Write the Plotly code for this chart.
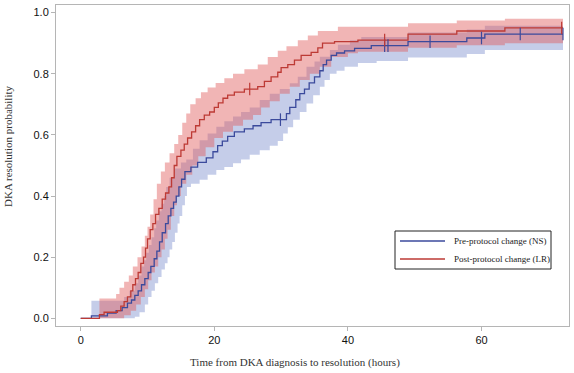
import numpy as np
import plotly.graph_objects as go

# ---------------- data ----------------
END_TIME = 72.2

# Post-protocol change (LR) -- red
red_t = [0, 2.8, 3.5, 5.5, 6.0, 6.5, 7.0, 7.5, 7.8, 8.2, 8.6, 9.0, 9.4, 9.7, 10.0, 10.4, 10.8,
         11.2, 11.7, 12.2, 12.7, 13.2, 13.6, 14.0, 14.4, 15.0, 15.5, 16.0, 16.6, 17.2, 17.8,
         18.5, 19.3, 20.0, 20.6, 21.3, 22.0, 23.0, 24.5, 26.5, 27.5, 28.5, 29.5, 30.0, 31.0,
         32.0, 33.0, 34.5, 35.5, 36.2, 38.0, 41.5, 49.0, 56.3, 63.5]
red_s = [0, 0.012, 0.02, 0.025, 0.04, 0.055, 0.07, 0.09, 0.11, 0.13, 0.15, 0.18, 0.20, 0.23,
         0.26, 0.29, 0.31, 0.34, 0.36, 0.39, 0.41, 0.43, 0.46, 0.50, 0.53, 0.55, 0.57, 0.59,
         0.61, 0.63, 0.65, 0.665, 0.675, 0.69, 0.705, 0.72, 0.73, 0.74, 0.75, 0.758, 0.775,
         0.79, 0.805, 0.82, 0.83, 0.845, 0.86, 0.87, 0.885, 0.90, 0.905, 0.91, 0.93, 0.94, 0.95]
red_up_t = [2.8, 5.3, 5.8, 6.5, 7.2, 7.8, 8.5, 9.1, 9.6, 10.0, 10.4, 10.9, 11.4, 12.0, 12.6,
            13.3, 14.0, 14.6, 15.2, 15.8, 16.4, 17.2, 18.0, 19.0, 20.2, 21.5, 22.8, 24.5,
            26.5, 28.0, 29.5, 30.8, 32.5, 34.0, 35.5, 38.5, 49.0, 56.3, 63.5]
red_up = [0.065, 0.08, 0.10, 0.12, 0.14, 0.17, 0.20, 0.235, 0.27, 0.30, 0.34, 0.39, 0.44,
          0.48, 0.51, 0.54, 0.57, 0.60, 0.64, 0.67, 0.70, 0.72, 0.74, 0.755, 0.77, 0.785,
          0.80, 0.815, 0.83, 0.855, 0.875, 0.89, 0.91, 0.925, 0.94, 0.954, 0.965, 0.974, 0.98]
red_lo_t = [2.8, 6.5, 7.5, 8.3, 9.0, 9.6, 10.1, 10.6, 11.1, 11.6, 12.1, 12.6, 13.0, 13.5,
            14.0, 14.4, 15.0, 15.8, 16.7, 17.6, 18.7, 20.0, 21.3, 22.8, 24.3, 25.8, 27.0,
            28.3, 29.8, 31.3, 32.8, 34.3, 35.8, 37.5, 40.0, 41.5, 49.0, 56.3, 63.5]
red_lo = [0.0, 0.01, 0.025, 0.045, 0.07, 0.095, 0.125, 0.15, 0.17, 0.20, 0.225, 0.26, 0.29,
          0.335, 0.37, 0.40, 0.44, 0.47, 0.50, 0.53, 0.56, 0.59, 0.61, 0.63, 0.65, 0.665,
          0.69, 0.71, 0.735, 0.758, 0.78, 0.80, 0.823, 0.855, 0.867, 0.872, 0.885, 0.893, 0.90]
red_censor = [25.3, 45.5, 72.0]

# Pre-protocol change (NS) -- blue
blue_t = [0, 1.6, 4.0, 5.3, 6.2, 7.0, 7.6, 8.1, 8.6, 9.1, 9.6, 10.1, 10.5, 11.0, 11.4, 11.8,
          12.2, 12.7, 13.1, 13.5, 13.9, 14.3, 14.7, 15.1, 15.6, 16.5, 17.5, 18.8, 19.8, 20.5,
          21.2, 22.0, 23.0, 24.5, 25.8, 27.0, 28.5, 30.8, 31.3, 32.2, 32.8, 33.5, 34.2, 35.0,
          35.8, 36.3, 36.8, 37.5, 38.3, 39.5, 41.0, 43.5, 49.0, 57.8, 60.5]
blue_s = [0, 0.008, 0.017, 0.025, 0.035, 0.05, 0.06, 0.075, 0.09, 0.11, 0.13, 0.15, 0.17,
          0.195, 0.22, 0.25, 0.28, 0.31, 0.335, 0.36, 0.38, 0.40, 0.43, 0.455, 0.48, 0.495,
          0.51, 0.525, 0.545, 0.565, 0.58, 0.595, 0.61, 0.62, 0.63, 0.64, 0.65, 0.67, 0.69,
          0.715, 0.735, 0.75, 0.77, 0.79, 0.81, 0.83, 0.845, 0.86, 0.868, 0.875, 0.883, 0.892,
          0.905, 0.917, 0.93]
blue_up_t = [1.6, 6.5, 7.3, 8.1, 8.6, 9.1, 9.5, 9.8, 10.2, 10.6, 11.0, 11.3, 11.7, 12.1,
             12.5, 12.8, 13.3, 14.0, 15.0, 15.8, 16.8, 17.8, 19.0, 20.3, 21.5, 22.8, 24.0,
             25.3, 26.8, 28.3, 29.8, 31.3, 32.5, 33.8, 35.0, 35.8, 37.3, 38.5, 40.3, 42.0,
             49.0, 57.8, 60.5]
blue_up = [0.058, 0.07, 0.09, 0.115, 0.14, 0.17, 0.19, 0.215, 0.24, 0.265, 0.295, 0.32,
           0.35, 0.375, 0.40, 0.43, 0.46, 0.49, 0.51, 0.52, 0.555, 0.583, 0.605, 0.627,
           0.645, 0.66, 0.675, 0.69, 0.714, 0.735, 0.75, 0.769, 0.79, 0.823, 0.84, 0.856,
           0.878, 0.895, 0.91, 0.92, 0.935, 0.945, 0.957]
blue_lo_t = [1.6, 8.1, 8.8, 9.6, 10.1, 10.6, 11.1, 11.6, 12.1, 12.6, 13.0, 13.3, 13.7, 14.1,
             14.5, 14.8, 15.2, 15.6, 15.9, 16.5, 17.8, 19.0, 20.3, 21.5, 22.8, 24.0, 25.3,
             26.8, 28.3, 29.5, 30.3, 31.0, 31.8, 32.8, 33.8, 34.8, 35.8, 36.5, 37.3, 38.3,
             39.5, 41.5, 44.3, 49.0, 57.8, 60.5]
blue_lo = [0.0, 0.005, 0.02, 0.045, 0.07, 0.09, 0.115, 0.135, 0.16, 0.18, 0.20, 0.225,
           0.25, 0.28, 0.31, 0.335, 0.37, 0.40, 0.43, 0.44, 0.453, 0.47, 0.485, 0.495,
           0.507, 0.52, 0.535, 0.55, 0.565, 0.58, 0.605, 0.625, 0.65, 0.675, 0.703, 0.73,
           0.758, 0.78, 0.80, 0.81, 0.823, 0.835, 0.842, 0.853, 0.865, 0.878]
blue_censor = [29.9, 45.5, 46.0, 52.3, 60.0, 65.8, 72.2]

series_names = ["Pre-protocol change (NS)", "Post-protocol change (LR)"]
x_ticks = [0, 20, 40, 60]
y_ticks = [0.0, 0.2, 0.4, 0.6, 0.8, 1.0]
y_tick_text = ["0.0", "0.2", "0.4", "0.6", "0.8", "1.0"]

BLUE = "#3b4a9c"
RED = "#bd3a35"
BLUE_FILL = "rgba(110,130,200,0.40)"
RED_FILL = "rgba(224,90,90,0.45)"
SERIF = "Liberation Serif, Times New Roman"

# plot-area geometry in page pixels
W, H = 574, 373
ML, MR, MT, MB = 56, 5, 5, 47
PW, PH = W - ML - MR, H - MT - MB


def xp(px):
    return (px - ML) / PW


def yp(py):
    return (H - MB - py) / PH


def extend(t, v):
    return list(t) + [END_TIME], list(v) + [v[-1]]


def step_at(t, v, q):
    t = np.asarray(t)
    v = np.asarray(v)
    idx = np.searchsorted(t, q, side="right") - 1
    return v[np.clip(idx, 0, len(v) - 1)]


fig = go.Figure()


def add_band(lo_t, lo, up_t, up, color):
    xl, yl = extend(lo_t, lo)
    xu, yu = extend(up_t, up)
    fig.add_trace(go.Scatter(x=xl, y=yl, mode="lines", line=dict(width=0, shape="hv"),
                             showlegend=False, hoverinfo="skip"))
    fig.add_trace(go.Scatter(x=xu, y=yu, mode="lines", line=dict(width=0, shape="hv"),
                             fill="tonexty", fillcolor=color, showlegend=False,
                             hoverinfo="skip"))


add_band(blue_lo_t, blue_lo, blue_up_t, blue_up, BLUE_FILL)
add_band(red_lo_t, red_lo, red_up_t, red_up, RED_FILL)

bx, by = extend(blue_t, blue_s)
rx, ry = extend(red_t, red_s)
fig.add_trace(go.Scatter(x=bx, y=by, mode="lines", name=series_names[0], showlegend=False,
                         line=dict(color=BLUE, width=1.3, shape="hv")))
fig.add_trace(go.Scatter(x=rx, y=ry, mode="lines", name=series_names[1], showlegend=False,
                         line=dict(color=RED, width=1.3, shape="hv")))

fig.add_trace(go.Scatter(x=blue_censor, y=step_at(bx, by, blue_censor), mode="markers",
                         marker=dict(symbol="line-ns", size=9,
                                     line=dict(color=BLUE, width=1.2)),
                         showlegend=False, hoverinfo="skip"))
fig.add_trace(go.Scatter(x=red_censor, y=step_at(rx, ry, red_censor), mode="markers",
                         marker=dict(symbol="line-ns", size=9,
                                     line=dict(color=RED, width=1.2)),
                         showlegend=False, hoverinfo="skip"))

# legend box (drawn as shapes + text to match the reference's compact box)
shapes = [dict(type="rect", xref="paper", yref="paper", x0=xp(395), x1=xp(551),
               y0=yp(269), y1=yp(231), line=dict(color="#222", width=1),
               fillcolor="white", layer="above")]
annotations = []
for name, color, py in [(series_names[0], BLUE, 241), (series_names[1], RED, 259)]:
    shapes.append(dict(type="line", xref="paper", yref="paper", x0=xp(400), x1=xp(445),
                       y0=yp(py), y1=yp(py), line=dict(color=color, width=1.3),
                       layer="above"))
    annotations.append(dict(text=name, xref="paper", yref="paper", x=xp(452), y=yp(py),
                            xanchor="left", yanchor="middle", showarrow=False,
                            font=dict(family=SERIF, size=9, color="#222")))

annotations += [
    dict(text="Time from DKA diagnosis to resolution (hours)", xref="paper", yref="paper",
         x=xp(295), y=yp(363), xanchor="center", yanchor="middle", showarrow=False,
         font=dict(family=SERIF, size=11, color="#333")),
    dict(text="DKA resolution probability", xref="paper", yref="paper",
         x=xp(8), y=yp(147), xanchor="center", yanchor="middle",
         textangle=-90, showarrow=False,
         font=dict(family=SERIF, size=11, color="#333")),
]

axis_common = dict(showgrid=False, zeroline=False, showline=True, mirror=True,
                   linecolor="#b5b5b5", linewidth=1, ticks="outside", ticklen=4,
                   tickcolor="#b5b5b5", automargin=False,
                   tickfont=dict(family="Liberation Sans, Arial", size=11, color="#111"))

fig.update_layout(
    width=W, height=H,
    margin=dict(l=ML, r=MR, t=MT, b=MB),
    plot_bgcolor="white", paper_bgcolor="white",
    showlegend=False,
    xaxis=dict(range=[-3.7, 73.1], tickvals=x_ticks, **axis_common),
    yaxis=dict(range=[-0.025, 1.025], tickvals=y_ticks, ticktext=y_tick_text, **axis_common),
    shapes=shapes,
    annotations=annotations,
)

fig.write_html("out.html", config={"displayModeBar": False},
               post_script="document.body.style.margin='0';document.body.style.overflow='hidden';")
